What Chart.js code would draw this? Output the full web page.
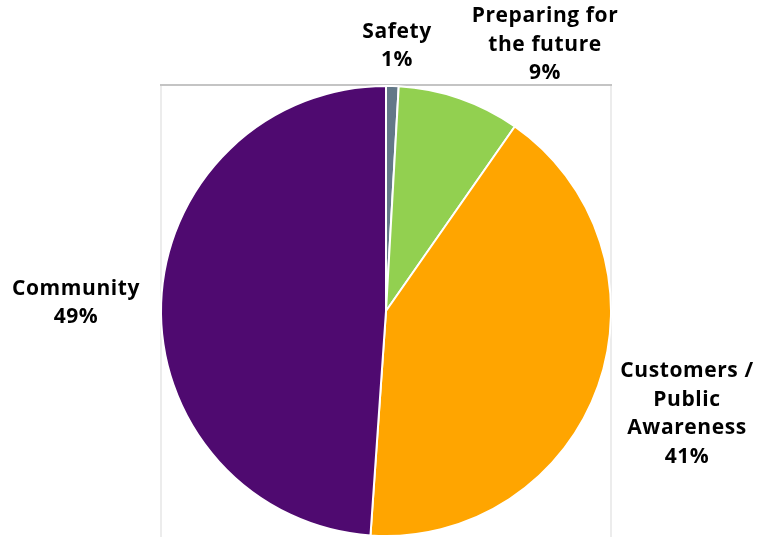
<!DOCTYPE html>
<html>
<head>
<meta charset="utf-8">
<script src="https://cdn.jsdelivr.net/npm/chart.js@4"></script>
<style>
  html, body { margin: 0; padding: 0; background: #ffffff; }
  #wrap { width: 757px; height: 537px; }
</style>
</head>
<body>
<div id="wrap"><canvas id="pie"></canvas></div>
<script>
// slice names, one line per array entry
const categories = [
    ["Safety"],
    ["Preparing for", "the future"],
    ["Customers /", "Public", "Awareness"],
    ["Community"]
];
// share of total, percent
const shares = [0.9, 8.8, 41.4, 48.9];
const sliceColors = ['#637888', '#92d050', '#ffa500', '#4f0a70'];

// where each label's block is centred (canvas px)
const labelSpots = [
    [397, 46],
    [545, 45],
    [687, 414],
    [76, 303]
];

// light plot frame round the pie, open at the bottom
const frame = {
    id: 'frame',
    beforeDraw(chart) {
        const arc = chart.getDatasetMeta(0).data[0];
        if (!arc) return;
        const r = arc.outerRadius;
        const left = Math.round(arc.x - r) - 1, right = Math.round(arc.x + r) - 1;
        const top = Math.round(arc.y - r) - 2;
        const c = chart.ctx;
        c.save();
        c.fillStyle = '#ececec';
        c.fillRect(left, top, 2, chart.height - top);
        c.fillRect(right, top, 2, chart.height - top);
        c.fillStyle = '#c4c4c4';
        c.fillRect(left, top, right - left + 2, 2);
        c.restore();
    }
};

const sliceLabels = {
    id: 'sliceLabels',
    afterDraw(chart) {
        const c = chart.ctx;
        const lh = 28.5;
        c.save();
        c.fillStyle = '#000000';
        c.font = 'bold 21px "Open Sans", sans-serif';
        c.letterSpacing = '0.6px';
        c.textAlign = 'center';
        c.textBaseline = 'middle';
        chart.data.datasets[0].data.forEach(function(v, i) {
            const lines = categories[i].concat([Math.round(v) + '%']);
            const [x, y] = labelSpots[i];
            const y0 = y - (lines.length - 1) * lh / 2;
            lines.forEach(function(t, k) {
                c.fillText(t, x, y0 + k * lh);
            });
        });
        c.restore();
    }
};

new Chart(document.getElementById('pie'), {
    type: 'pie',
    data: {
        labels: categories.map(l => l.join(' ')),
        datasets: [{
            data: shares,
            backgroundColor: sliceColors,
            borderColor: '#ffffff',
            borderWidth: 2
        }]
    },
    options: {
        responsive: true,
        maintainAspectRatio: false,
        animation: false,
        layout: { padding: { left: 159, right: 144, top: 85, bottom: -2 } },
        plugins: {
            legend: { display: false },
            tooltip: { enabled: false }
        }
    },
    plugins: [frame, sliceLabels]
});
</script>
</body>
</html>
